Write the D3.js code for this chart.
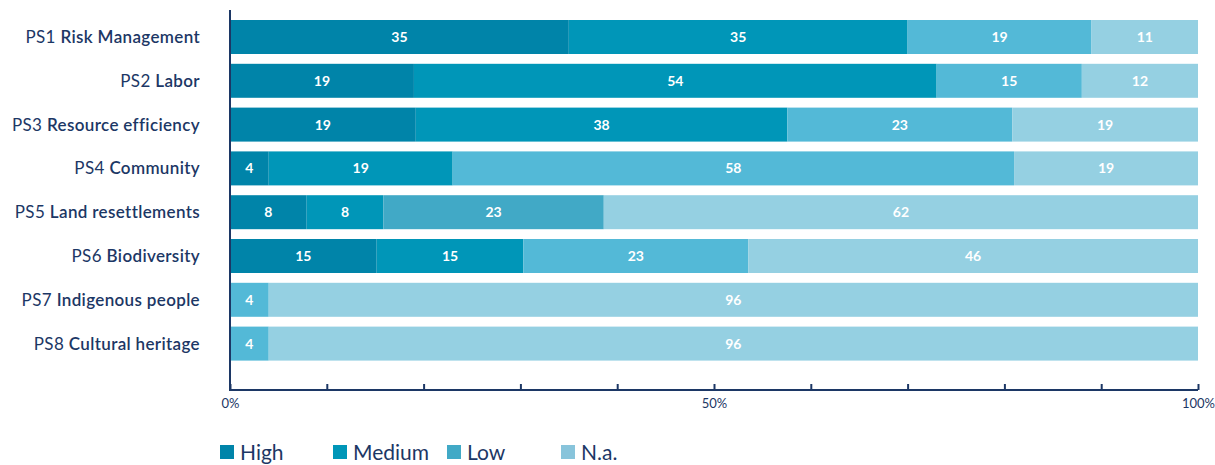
<!DOCTYPE html>
<html>
<head>
  <title>Performance standards</title>
  <style>
    body { margin: 0; background: #fff; }
    svg { display: block; font-family: Lato, "Open Sans", sans-serif; }
    .cat { fill: #1c3765; font-size: 17px; letter-spacing: 0.35px; }
    .val { fill: #fff; font-size: 14px; font-weight: 700; }
    .tick-label { fill: #1c3765; font-size: 13px; }
    .legend text { fill: #1c3765; font-size: 21px; }
  </style>
</head>
<body>
<svg width="1215" height="465"></svg>
<script src="https://d3js.org/d3.v7.min.js"></script>
<script>

  var codes = ['PS1', 'PS2', 'PS3', 'PS4', 'PS5', 'PS6', 'PS7', 'PS8']
  var names = ['Risk Management', 'Labor', 'Resource efficiency', 'Community',
    'Land resettlements', 'Biodiversity', 'Indigenous people', 'Cultural heritage']

  var levels = ['High', 'Medium', 'Low', 'N.a.']
  var high = [35, 19, 19, 4, 8, 15, 0, 0]
  var medium = [35, 54, 38, 19, 8, 15, 0, 0]
  var low = [19, 15, 23, 58, 23, 23, 4, 4]
  var na = [11, 12, 19, 19, 62, 46, 96, 96]

  var xTicks = [0, 0.1, 0.2, 0.3, 0.4, 0.5, 0.6, 0.7, 0.8, 0.9, 1]
  var xLabels = ['0%', '', '', '', '', '50%', '', '', '', '', '100%']

  var colors = ['#0084a9', '#0096b8', '#53b9d7', '#95d0e2']
  var legendColors = ['#0084a9', '#0096b8', '#41a9c6', '#88c4db']

  var rows = codes.map(function (c, i) {
    return {code: c, name: names[i], 'High': high[i], 'Medium': medium[i], 'Low': low[i], 'N.a.': na[i]}
  })

  var svg = d3.select('svg')
  var plotLeft = 230, plotRight = 1198, axisY = 390

  var x = d3.scaleLinear().domain([0, 1]).range([plotLeft, plotRight])
  var y = d3.scaleBand().domain(codes).range([15.1, 365.5]).paddingInner(0.224).paddingOuter(0.112)

  var series = d3.stack().keys(levels).offset(d3.stackOffsetExpand)(rows)

  var layer = svg.selectAll('g.layer')
    .data(series)
    .enter().append('g')
    .attr('class', 'layer')

  layer.selectAll('rect')
    .data(function (s) { return s.map(function (d) { return {s: s, d: d} }) })
    .enter().append('rect')
    .attr('x', function (o) { return x(o.d[0]) })
    .attr('width', function (o) { return Math.max(0, x(o.d[1]) - x(o.d[0])) })
    .attr('y', function (o) { return y(o.d.data.code) })
    .attr('height', y.bandwidth())
    .attr('fill', function (o) {
      // PS5 low segment is drawn in the darker legend shade
      if (o.s.key === 'Low' && o.d.data.code === 'PS5') return legendColors[2]
      return colors[o.s.index]
    })

  layer.selectAll('text')
    .data(function (s) { return s.filter(function (d) { return d.data[s.key] > 0 }).map(function (d) { return {s: s, d: d} }) })
    .enter().append('text')
    .attr('class', 'val')
    .attr('x', function (o) { return (x(o.d[0]) + x(o.d[1])) / 2 })
    .attr('y', function (o) { return y(o.d.data.code) + y.bandwidth() / 2 })
    .attr('dy', '0.36em')
    .attr('text-anchor', 'middle')
    .text(function (o) { return o.d.data[o.s.key] })

  // category labels
  var cat = svg.selectAll('text.cat')
    .data(rows)
    .enter().append('text')
    .attr('class', 'cat')
    .attr('x', 200)
    .attr('y', function (d) { return y(d.code) + y.bandwidth() / 2 })
    .attr('dy', '0.35em')
    .attr('text-anchor', 'end')
  cat.append('tspan').text(function (d) { return d.code + ' ' })
  cat.append('tspan').attr('font-weight', 600).text(function (d) { return d.name })

  // x axis
  var xAxis = svg.append('g')
    .attr('transform', 'translate(0,' + axisY + ')')
    .call(d3.axisBottom(x).tickValues(xTicks).tickSize(-6).tickFormat(function (d, i) { return xLabels[i] }))
  xAxis.attr('font-family', null).attr('font-size', null)
  xAxis.select('.domain').attr('stroke', '#1c3765').attr('stroke-width', 2).attr('d', 'M' + plotLeft + ',0H' + plotRight)
  xAxis.selectAll('.tick line').attr('stroke', '#1c3765').attr('stroke-width', 2)
  xAxis.selectAll('.tick text').attr('class', 'tick-label').attr('y', 9).attr('dy', '0.71em').attr('fill', null)

  // y axis line
  svg.append('line')
    .attr('x1', plotLeft).attr('x2', plotLeft)
    .attr('y1', 10).attr('y2', axisY + 1)
    .attr('stroke', '#1c3765').attr('stroke-width', 2)

  // legend
  var legendX = [220, 333, 447, 561]
  var legend = svg.append('g').attr('class', 'legend')
  var item = legend.selectAll('g')
    .data(levels)
    .enter().append('g')
    .attr('transform', function (d, i) { return 'translate(' + legendX[i] + ',445)' })
  item.append('rect').attr('width', 14).attr('height', 14).attr('fill', function (d, i) { return legendColors[i] })
  item.append('text').attr('x', 20).attr('y', 15).text(function (d) { return d })

</script>
</body>
</html>
